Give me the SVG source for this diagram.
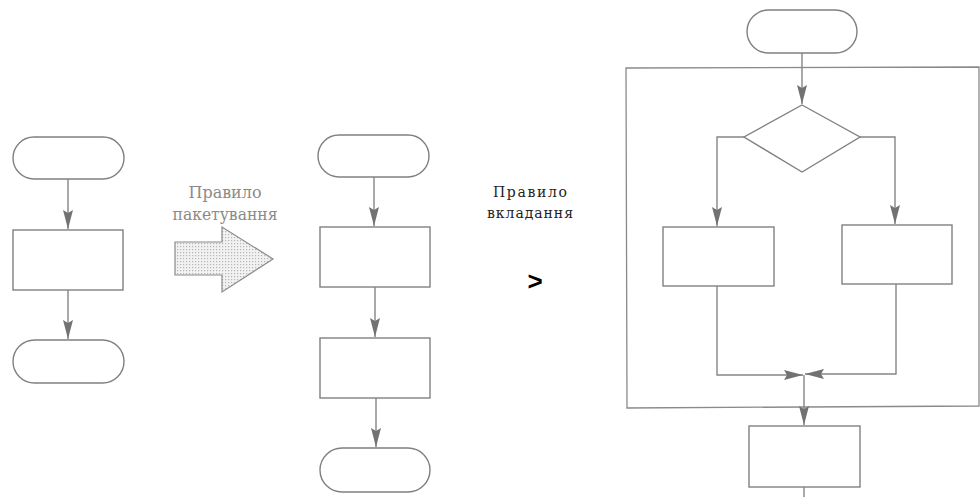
<svg xmlns="http://www.w3.org/2000/svg" width="980" height="497" viewBox="0 0 980 497">
  <style>
    .shape { fill: #ffffff; stroke: #808080; stroke-width: 1.4; }
    .frame { fill: none; stroke: #8a8a8a; stroke-width: 1.3; }
    .link { fill: none; stroke: #858585; stroke-width: 1.4; }
    .arrow { marker-end: url(#head); }
    .serif { font-family: 'DejaVu Serif', 'Liberation Serif', serif; }
  </style>
  <defs>
    <marker id="head" markerUnits="userSpaceOnUse" markerWidth="20" markerHeight="10" refX="19" refY="5" orient="auto">
      <path d="M0,0 L19,5 L0,10 L3,5 z" fill="#727272"/>
    </marker>
    <pattern id="dots" width="3" height="3" patternUnits="userSpaceOnUse">
      <rect width="3" height="3" fill="#f2f2f2"/>
      <rect x="0" y="0" width="1.2" height="1.2" fill="#b5b5b5"/>
    </pattern>
  </defs>

  <!-- left chart: sequence of two terminals and one process -->
  <g id="left-start"><rect class="shape" x="13" y="137" width="111" height="42" rx="21"/></g>
  <g id="left-process"><rect class="shape" x="13" y="230" width="110" height="60"/></g>
  <g id="left-end"><rect class="shape" x="13" y="340" width="111" height="43" rx="21.5"/></g>

  <!-- transformation arrow with caption -->
  <g id="packing-arrow">
    <path d="M175,242 L222,242 L222,227 L273,259 L222,292 L222,275 L175,275 z" fill="url(#dots)" stroke="#8a8a8a" stroke-width="1.2"/>
    <text class="serif" font-size="17" fill="#8a8a8a" x="225" y="198" text-anchor="middle" textLength="73" lengthAdjust="spacingAndGlyphs">Правило</text>
    <text class="serif" font-size="17" fill="#8a8a8a" x="225" y="220" text-anchor="middle" textLength="105" lengthAdjust="spacingAndGlyphs">пакетування</text>
  </g>

  <!-- middle chart: terminal, two processes, terminal -->
  <g id="mid-start"><rect class="shape" x="318" y="135" width="111" height="42" rx="21"/></g>
  <g id="mid-process-1"><rect class="shape" x="320" y="227" width="110" height="60"/></g>
  <g id="mid-process-2"><rect class="shape" x="320" y="338" width="110" height="60"/></g>
  <g id="mid-end"><rect class="shape" x="320" y="448" width="110" height="44" rx="22"/></g>

  <!-- nesting rule caption -->
  <g id="nesting-label">
    <text class="serif" font-size="14" fill="#222222" x="530" y="197" text-anchor="middle" textLength="74" lengthAdjust="spacing">Правило</text>
    <text class="serif" font-size="14" fill="#222222" x="530" y="218" text-anchor="middle" textLength="86" lengthAdjust="spacing">вкладання</text>
    <text x="535" y="290" text-anchor="middle" font-family="Liberation Sans, Arial, sans-serif" font-weight="bold" font-size="26" fill="#000">&gt;</text>
  </g>

  <!-- right chart: terminal, nested decision block, process -->
  <g id="right-start"><rect class="shape" x="747" y="10" width="110" height="43" rx="21.5"/></g>
  <g id="nest-frame"><path class="frame" d="M626,68 L979,67 L979,406 L627,408 z"/></g>
  <g id="decision"><path class="shape" d="M802,105 L860,137 L802,172 L744,137 z"/></g>
  <g id="branch-left"><rect class="shape" x="663" y="227" width="111" height="59"/></g>
  <g id="branch-right"><rect class="shape" x="842" y="225" width="110" height="59"/></g>
  <g id="right-process"><rect class="shape" x="749" y="426" width="111" height="61"/></g>

  <!-- connectors -->
  <g id="connectors">
    <path class="link arrow" d="M68,179 L68,229"/>
    <path class="link arrow" d="M68,290 L68,339"/>

    <path class="link arrow" d="M374,177 L374,226"/>
    <path class="link arrow" d="M375,287 L375,337"/>
    <path class="link arrow" d="M376,398 L376,447"/>

    <path class="link arrow" d="M802,53 L802,104"/>
    <path class="link arrow" d="M744,137 L717,137 L717,226"/>
    <path class="link arrow" d="M860,137 L895,137 L895,224"/>
    <path class="link arrow" d="M717,286 L717,375 L803,375"/>
    <path class="link arrow" d="M896,284 L896,374 L805,374"/>
    <path class="link arrow" d="M804,375 L804,425"/>
    <path class="link" d="M804,487 L804,497"/>
  </g>
</svg>
